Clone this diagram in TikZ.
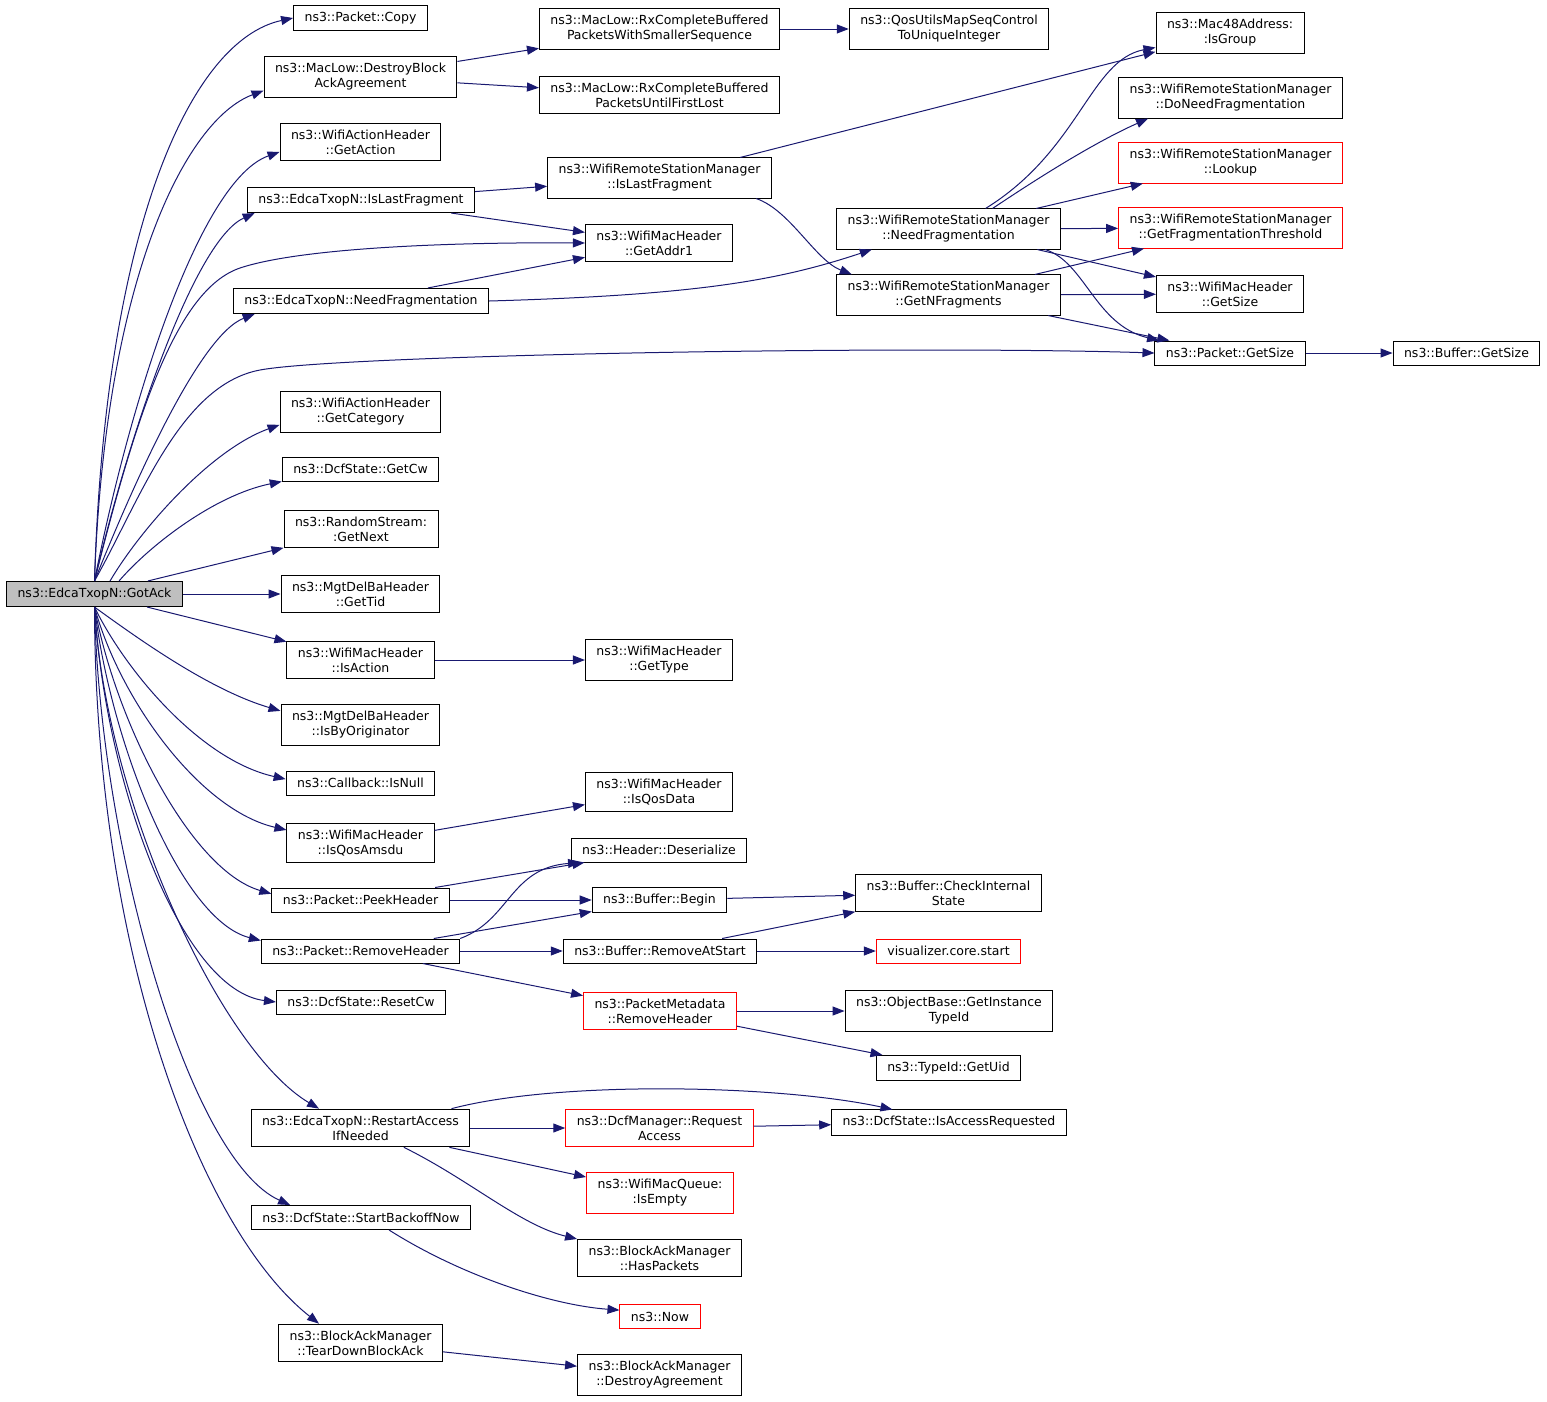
\documentclass[tikz,border=0pt]{standalone}
\usepackage{fontspec}
\setmainfont{DejaVu Sans}
\usetikzlibrary{arrows.meta}
\definecolor{callblue}{HTML}{191970}
\definecolor{rootgray}{HTML}{BFBFBF}
\begin{document}
\begin{tikzpicture}[>={Triangle[length=12pt,width=9pt]},x=1pt,y=-1pt,
        fn/.style={draw=black,fill=white,line width=1pt,align=center,inner xsep=11pt,inner ysep=6.5pt,minimum height=24pt,font=\fontsize{12.5}{15}\selectfont},
        hot/.style={fn,draw=red},
        root/.style={fn,fill=rootgray},
        call/.style={->,draw=callblue,line width=1pt}]
        \useasboundingbox(0,0)rectangle(1547,1401);
        \node[root](gotack)at(94.5,594){ns3::EdcaTxopN::GotAck};
        \node[fn](pcopy)at(360.5,18){ns3::Packet::Copy};
        \node[fn](destroyba)at(360.5,77){ns3::MacLow::DestroyBlock\\AckAgreement};
        \node[fn](rxsmaller)at(659.5,29){ns3::MacLow::RxCompleteBuffered\\PacketsWithSmallerSequence};
        \node[fn](rxuntil)at(659.5,95){ns3::MacLow::RxCompleteBuffered\\PacketsUntilFirstLost};
        \node[fn](qosmap)at(949,29){ns3::QosUtilsMapSeqControl\\ToUniqueInteger};
        \node[fn](isgroup)at(1230,33){ns3::Mac48Address:\\:IsGroup};
        \node[fn](doneedfrag)at(1230.5,98){ns3::WifiRemoteStationManager\\::DoNeedFragmentation};
        \node[hot](lookup)at(1230.5,163){ns3::WifiRemoteStationManager\\::Lookup};
        \node[hot](fragthr)at(1230.5,228){ns3::WifiRemoteStationManager\\::GetFragmentationThreshold};
        \node[fn](hdrsize)at(1230,294){ns3::WifiMacHeader\\::GetSize};
        \node[fn](pktsize)at(1230,353){ns3::Packet::GetSize};
        \node[fn](bufsize)at(1466.5,353){ns3::Buffer::GetSize};
        \node[fn](getaction)at(360.5,142){ns3::WifiActionHeader\\::GetAction};
        \node[fn](edcalast)at(361,200){ns3::EdcaTxopN::IsLastFragment};
        \node[fn](wrsmlast)at(659.5,178){ns3::WifiRemoteStationManager\\::IsLastFragment};
        \node[fn](getaddr)at(659,243){ns3::WifiMacHeader\\::GetAddr1};
        \node[fn](needfrag)at(948.5,229){ns3::WifiRemoteStationManager\\::NeedFragmentation};
        \node[fn](getnfrag)at(948.5,295){ns3::WifiRemoteStationManager\\::GetNFragments};
        \node[fn](edcaneed)at(361,301){ns3::EdcaTxopN::NeedFragmentation};
        \node[fn](getcat)at(360.5,412){ns3::WifiActionHeader\\::GetCategory};
        \node[fn](getcw)at(360.5,469){ns3::DcfState::GetCw};
        \node[fn](getnext)at(361,529){ns3::RandomStream:\\:GetNext};
        \node[fn](gettid)at(360.5,594){ns3::MgtDelBaHeader\\::GetTid};
        \node[fn](isaction)at(360.5,660){ns3::WifiMacHeader\\::IsAction};
        \node[fn](gettype)at(659,660){ns3::WifiMacHeader\\::GetType};
        \node[fn](isbyorig)at(360.5,725){ns3::MgtDelBaHeader\\::IsByOriginator};
        \node[fn](isnull)at(360.5,783){ns3::Callback::IsNull};
        \node[fn](isqosdata)at(659,792){ns3::WifiMacHeader\\::IsQosData};
        \node[fn](isqosamsdu)at(360.5,843){ns3::WifiMacHeader\\::IsQosAmsdu};
        \node[fn](deserialize)at(659,850){ns3::Header::Deserialize};
        \node[fn](peekhdr)at(360.5,900){ns3::Packet::PeekHeader};
        \node[fn](bufbegin)at(659.5,900){ns3::Buffer::Begin};
        \node[fn](checkstate)at(948.5,893){ns3::Buffer::CheckInternal\\State};
        \node[fn](removehdr)at(360.5,951){ns3::Packet::RemoveHeader};
        \node[fn](removeatstart)at(660,951){ns3::Buffer::RemoveAtStart};
        \node[hot](vizstart)at(948.5,951){visualizer.core.start};
        \node[hot](pmremove)at(660,1011){ns3::PacketMetadata\\::RemoveHeader};
        \node[fn](gettypeid)at(949,1011){ns3::ObjectBase::GetInstance\\TypeId};
        \node[fn](getuid)at(948.5,1068){ns3::TypeId::GetUid};
        \node[fn](resetcw)at(361,1002){ns3::DcfState::ResetCw};
        \node[fn](restart)at(360.5,1128){ns3::EdcaTxopN::RestartAccess\\IfNeeded};
        \node[hot](reqaccess)at(659.5,1128){ns3::DcfManager::Request\\Access};
        \node[fn](accessreq)at(949,1122.5){ns3::DcfState::IsAccessRequested};
        \node[hot](isempty)at(660,1193){ns3::WifiMacQueue:\\:IsEmpty};
        \node[fn](haspackets)at(659.5,1258){ns3::BlockAckManager\\::HasPackets};
        \node[fn](backoff)at(361,1217.5){ns3::DcfState::StartBackoffNow};
        \node[hot](now)at(660,1316.5){ns3::Now};
        \node[fn](teardown)at(360.5,1343){ns3::BlockAckManager\\::TearDownBlockAck};
        \node[fn](destroyagr)at(659.5,1375){ns3::BlockAckManager\\::DestroyAgreement};
        \foreach \a/\b in {destroyba/rxsmaller,destroyba/rxuntil,rxsmaller/qosmap,edcalast/wrsmlast,edcalast/getaddr,edcaneed/getaddr,wrsmlast/isgroup,needfrag/lookup,needfrag/fragthr,needfrag/hdrsize,getnfrag/fragthr,getnfrag/hdrsize,getnfrag/pktsize,pktsize/bufsize,gotack/getnext,gotack/gettid,gotack/isaction,isaction/gettype,isqosamsdu/isqosdata,peekhdr/deserialize,peekhdr/bufbegin,removehdr/bufbegin,removehdr/removeatstart,removehdr/pmremove,bufbegin/checkstate,removeatstart/checkstate,removeatstart/vizstart,pmremove/gettypeid,pmremove/getuid,restart/reqaccess,reqaccess/accessreq,restart/isempty,teardown/destroyagr}
            {\draw[call](\a)--(\b);}
        \draw[call](gotack.north)..controls(105,230)and(190,40)..(pcopy.west);
        \draw[call](gotack.north)..controls(105,280)and(185,120)..(destroyba.188);
        \draw[call](gotack.north)..controls(130,400)and(200,180)..(getaction.187);
        \draw[call](gotack.north)..controls(130,430)and(195,240)..(edcalast.187);
        \draw[call](gotack.north)..controls(135,420)and(175,290)..(240,268)..controls(300,248)and(450,242)..(getaddr.west);
        \draw[call](gotack.north)..controls(135,480)and(200,335)..(edcaneed.187);
        \draw[call](gotack.north)..controls(140,500)and(180,385)..(260,370)..controls(340,355)and(900,345)..(pktsize.west);
        \draw[call](gotack.40)..controls(140,530)and(210,450)..(getcat.189);
        \draw[call](gotack.28)..controls(150,545)and(215,495)..(getcw.south west);
        \draw[call](gotack.south)..controls(140,640)and(210,690)..(isbyorig.170);
        \draw[call](gotack.south)..controls(125,670)and(200,760)..(isnull.177);
        \draw[call](gotack.south)..controls(120,700)and(200,810)..(isqosamsdu.170);
        \draw[call](gotack.south)..controls(115,720)and(190,870)..(peekhdr.176);
        \draw[call](gotack.south)..controls(110,740)and(180,920)..(removehdr.174);
        \draw[call](gotack.south)..controls(105,780)and(180,990)..(resetcw.west);
        \draw[call](gotack.south)..controls(105,800)and(220,1050)..(restart.155);
        \draw[call](gotack.south)..controls(100,850)and(190,1160)..(backoff.170);
        \draw[call](gotack.south)..controls(95,950)and(200,1230)..(teardown.155);
        \draw[call](edcaneed.east)..controls(700,295)and(780,280)..(needfrag.195);
        \draw[call](wrsmlast.348)..controls(790,210)and(815,260)..(getnfrag.168);
        \draw[call](needfrag.29)..controls(1080,150)and(1090,60)..(isgroup.191);
        \draw[call](needfrag.25)..controls(1050,170)and(1100,140)..(doneedfrag.194);
        \draw[call](needfrag.348)..controls(1085,262)and(1095,325)..(pktsize.170);
        \draw[call](removehdr.north east)..controls(510,920)and(510,868)..(deserialize.189);
        \draw[call](restart.12)..controls(560,1080)and(780,1085)..(accessreq.167);
        \draw[call](restart.336)..controls(470,1180)and(520,1225)..(haspackets.167);
        \draw[call](backoff.336)..controls(460,1275)and(550,1305)..(now.171);
    \end{tikzpicture}
\end{document}
